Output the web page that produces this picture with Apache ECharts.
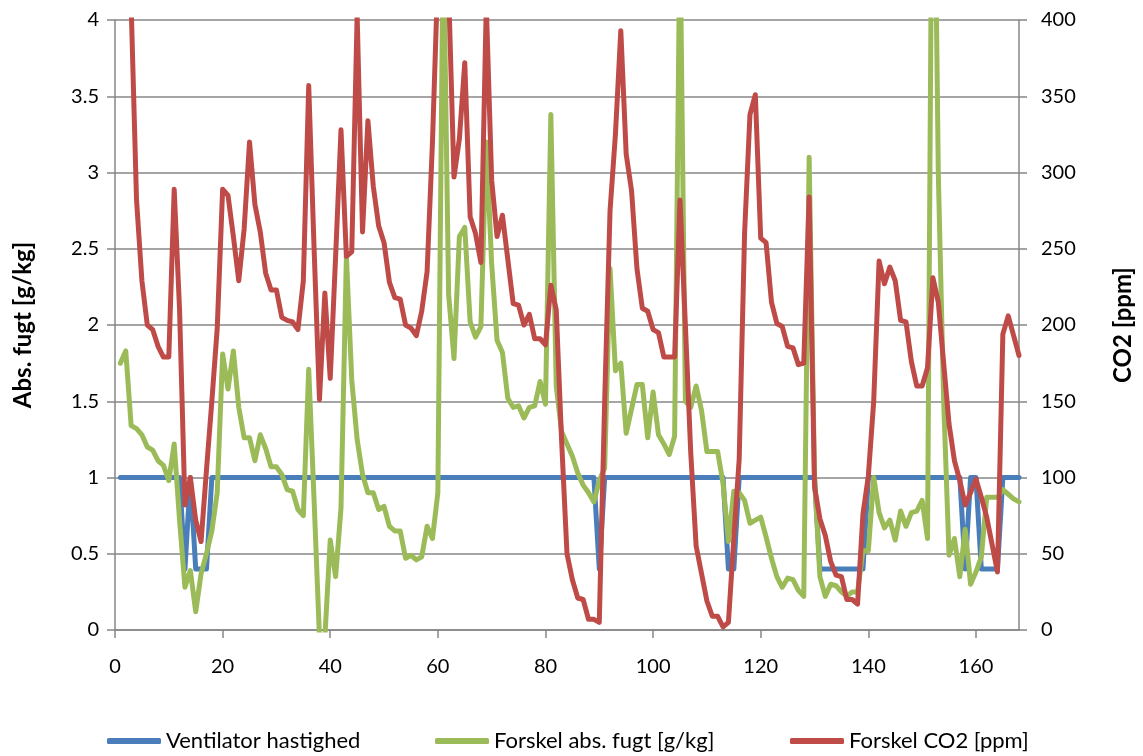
<!DOCTYPE html>
<html>
<head>
<meta charset="utf-8">
<script src="https://cdn.jsdelivr.net/npm/echarts@6/dist/echarts.min.js"></script>
<style>
html,body{margin:0;padding:0;background:#fff;}
#c{width:1143px;height:756px;}
</style>
</head>
<body>
<div id="c"></div>
<script>
// Hours 1..168 (one value per hour)
var seriesNames = ['Ventilator hastighed', 'Forskel abs. fugt [g/kg]', 'Forskel CO2 [ppm]'];
var leftTicks = [0, 0.5, 1, 1.5, 2, 2.5, 3, 3.5, 4];
var rightTicks = [0, 50, 100, 150, 200, 250, 300, 350, 400];
var xTicks = [0, 20, 40, 60, 80, 100, 120, 140, 160];

var ventilator = [
1,1,1,1,1,1,1,1,1,1, 1,1,0.4,1,0.4,0.4,0.4,1,1,1,
1,1,1,1,1,1,1,1,1,1, 1,1,1,1,1,1,1,1,1,1,
1,1,1,1,1,1,1,1,1,1, 1,1,1,1,1,1,1,1,1,1,
1,1,1,1,1,1,1,1,1,1, 1,1,1,1,1,1,1,1,1,1,
1,1,1,1,1,1,1,1,1,0.4, 1,1,1,1,1,1,1,1,1,1,
1,1,1,1,1,1,1,1,1,1, 1,1,1,0.4,0.4,1,1,1,1,1,
1,1,1,1,1,1,1,1,1,1, 0.4,0.4,0.4,0.4,0.4,0.4,0.4,0.4,0.4,1,
1,1,1,1,1,1,1,1,1,1, 1,1,1,1,1,1,1,0.4,1,1,
0.4,0.4,0.4,0.4,1,1,1,1
];

var absFugt = [
1.75,1.83,1.34,1.32,1.28,1.20,1.18,1.11,1.08,0.98,
1.22,0.72,0.28,0.39,0.12,0.37,0.50,0.65,0.90,1.81,
1.58,1.83,1.46,1.26,1.26,1.11,1.28,1.19,1.07,1.07,
1.02,0.92,0.91,0.79,0.75,1.71,0.85,-0.05,-0.05,0.59,
0.35,0.80,2.45,1.64,1.25,1.02,0.90,0.90,0.79,0.81,
0.68,0.65,0.65,0.47,0.49,0.46,0.48,0.68,0.60,0.90,
4.6,2.2,1.78,2.58,2.64,2.02,1.92,1.99,3.2,2.4,
1.90,1.82,1.52,1.46,1.47,1.39,1.46,1.47,1.63,1.48,
3.38,1.60,1.30,1.22,1.14,1.03,0.95,0.90,0.84,0.98,
1.06,2.37,1.70,1.75,1.29,1.45,1.61,1.61,1.26,1.56,
1.28,1.22,1.15,1.27,4.6,1.50,1.46,1.60,1.44,1.17,
1.17,1.17,0.96,0.58,0.91,0.90,0.85,0.70,0.72,0.74,
0.61,0.47,0.35,0.28,0.34,0.33,0.26,0.22,3.10,1.00,
0.35,0.22,0.30,0.29,0.25,0.22,0.25,0.25,0.52,0.52,
1.00,0.77,0.67,0.72,0.59,0.78,0.68,0.77,0.78,0.85,
0.60,6.0,3.0,1.5,0.49,0.60,0.35,0.66,0.30,0.38,
0.48,0.87,0.87,0.87,0.92,0.89,0.86,0.84
];

var co2 = [
520,460,410,282,229,200,197,186,179,179,
289,210,82,100,72,58,105,150,198,289,
285,258,229,263,320,279,261,234,223,223,
205,203,202,197,229,357,250,151,221,165,
245,328,245,248,403,261,334,291,265,254,
228,218,217,200,198,193,209,235,320,430,
460,420,297,322,372,271,260,241,410,295,
258,272,243,214,213,200,207,191,191,187,
226,210,124,50,33,21,20,7,7,5,
150,275,325,393,312,288,237,211,209,197,
195,179,179,179,282,200,116,55,37,19,
9,9,2,5,60,112,260,338,351,257,
254,215,201,199,186,185,174,175,284,94,
73,62,45,36,35,20,20,17,76,101,
150,242,227,238,229,203,202,176,160,160,
172,231,215,175,135,111,98,82,90,99,
87,74,56,38,194,206,193,180
];

function pairs(arr){ return arr.map(function(v,i){ return [i+1, v]; }); }

var FONT = 'Lato, "Open Sans", sans-serif';
var gridColor = '#878787';
var colors = ['#4A7EBB', '#9BBB59', '#BE4B48'];
var legendLefts = [107, 435, 790];

function mkLegend(i){
  return {
    data: [seriesNames[i]],
    top: 730,
    left: legendLefts[i],
    padding: 0,
    itemWidth: 54,
    itemHeight: 6,
    icon: 'roundRect',
    textStyle: {fontFamily: FONT, fontSize: 22, color: '#000', padding: [0,0,0,0]}
  };
}

function mkSeries(i, arr, axis){
  return {
    name: seriesNames[i], type: 'line', yAxisIndex: axis,
    data: pairs(arr), showSymbol: false, symbol: 'none',
    lineStyle: {color: colors[i], width: 5, cap: 'round', join: 'round'},
    itemStyle: {color: colors[i]}, clip: true
  };
}

var chart = echarts.init(document.getElementById('c'), null, {renderer:'canvas'});
chart.setOption({
  animation: false,
  backgroundColor: '#ffffff',
  grid: {left: 115, right: 120, top: 20, bottom: 126, containLabel: false},
  legend: [mkLegend(0), mkLegend(1), mkLegend(2)],
  xAxis: {
    type: 'value',
    min: 0, max: 168, interval: 20,
    axisLine: {show: true, lineStyle: {color: gridColor, width: 1.5}},
    axisTick: {show: true, length: 8, lineStyle: {color: gridColor, width: 1.5}, customValues: xTicks},
    axisLabel: {customValues: xTicks, margin: 27, fontFamily: FONT, fontSize: 20, color: '#000'},
    splitLine: {show: false}
  },
  yAxis: [{
    type: 'value',
    min: 0, max: 4, interval: 0.5,
    name: 'Abs. fugt [g/kg]',
    nameLocation: 'middle',
    nameGap: 80,
    nameRotate: 90,
    nameTextStyle: {fontFamily: FONT, fontSize: 24, fontWeight: 'bold', color: '#000'},
    axisLine: {show: true, lineStyle: {color: gridColor, width: 1.5}},
    axisTick: {show: true, length: 8, lineStyle: {color: gridColor, width: 1.5}},
    axisLabel: {margin: 16, fontFamily: FONT, fontSize: 20, color: '#000',
      formatter: function(v){ return leftTicks.indexOf(v) >= 0 ? String(v) : ''; }},
    splitLine: {show: true, lineStyle: {color: gridColor, width: 1.5}}
  },{
    type: 'value',
    min: 0, max: 400, interval: 50,
    name: 'CO2 [ppm]',
    nameLocation: 'middle',
    nameGap: 92,
    nameRotate: 90,
    nameTextStyle: {fontFamily: FONT, fontSize: 24, fontWeight: 'bold', color: '#000'},
    position: 'right',
    axisLine: {show: true, lineStyle: {color: gridColor, width: 1.5}},
    axisTick: {show: true, length: 8, lineStyle: {color: gridColor, width: 1.5}},
    axisLabel: {margin: 22, fontFamily: FONT, fontSize: 20, color: '#000',
      formatter: function(v){ return rightTicks.indexOf(v) >= 0 ? String(v) : ''; }},
    splitLine: {show: false}
  }],
  series: [mkSeries(0, ventilator, 0), mkSeries(1, absFugt, 0), mkSeries(2, co2, 1)]
});
</script>
</body>
</html>
